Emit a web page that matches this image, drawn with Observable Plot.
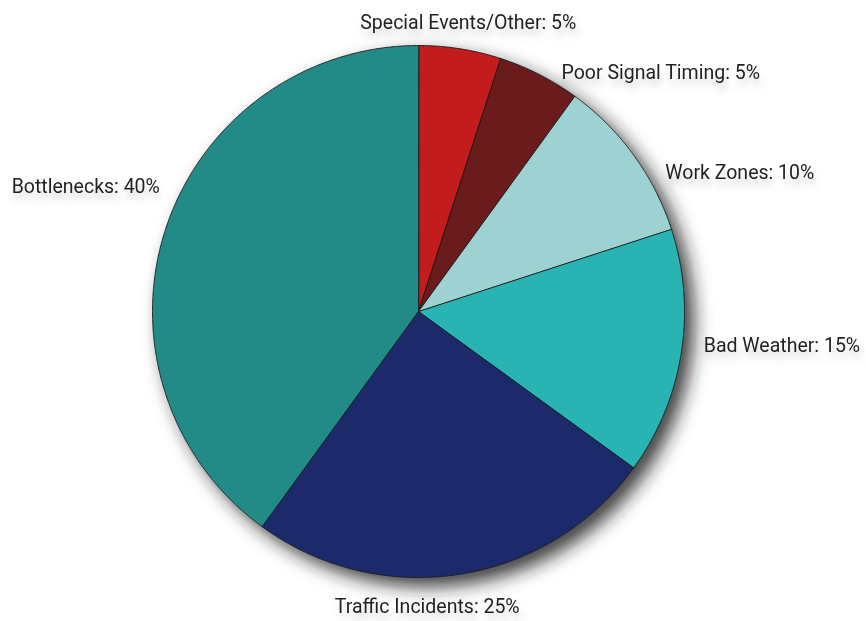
<!DOCTYPE html>
<html>
<head>
<meta charset="utf-8">
<script src="https://cdn.jsdelivr.net/npm/d3@7"></script>
<script src="https://cdn.jsdelivr.net/npm/@observablehq/plot@0.6"></script>
<style>
  html, body { margin: 0; padding: 0; background: #fff; }
  #chart { width: 866px; height: 621px; }
</style>
</head>
<body>
<div id="chart"></div>
<script>
// ---- Data (clockwise from 12 o'clock) ----
const categories = ["Special Events/Other", "Poor Signal Timing", "Work Zones", "Bad Weather", "Traffic Incidents", "Bottlenecks"];
const shares = [5, 5, 10, 15, 25, 40];
const colors = ["#c21a1c", "#6a1c1f", "#9ed1d1", "#2bb3b3", "#1c2a6c", "#218b88"];

// ---- Label layout (polar angle in degrees clockwise from top, radius as fraction of pie radius, anchor) ----
const labelAngles = [9.8, 30.9, 60.6, 96.8, 178.3, 295.8];
const labelRadii = [1.10, 1.047, 1.065, 1.08, 1.11, 1.08];
const labelAnchors = ["middle", "start", "start", "start", "middle", "end"];

// ---- Build slice polygons from the values ----
const total = d3.sum(shares);
const slices = [];
let acc = 0;
categories.forEach((name, i) => {
  const a0 = acc / total * 2 * Math.PI;
  acc += shares[i];
  const a1 = acc / total * 2 * Math.PI;
  slices.push({name, x: 0, y: 0});
  const n = Math.max(2, Math.ceil((a1 - a0) / (Math.PI / 720)));
  for (let k = 0; k <= n; k++) {
    const a = a0 + (a1 - a0) * k / n;
    slices.push({name, x: Math.sin(a), y: Math.cos(a)});
  }
});

const labels = categories.map((name, i) => {
  const a = labelAngles[i] * Math.PI / 180;
  return {
    text: `${name}: ${shares[i]}%`,
    x: labelRadii[i] * Math.sin(a),
    y: labelRadii[i] * Math.cos(a),
    anchor: labelAnchors[i]
  };
});

const textOpts = anchor => ({
  x: "x", y: "y", text: "text", textAnchor: anchor,
  fontSize: 19.5, fill: "#222", fontFamily: "Roboto, 'Open Sans', sans-serif"
});

const chart = Plot.plot({
  width: 866,
  height: 621,
  marginLeft: 152,
  marginRight: 182,
  marginTop: 45,
  marginBottom: 44,
  x: {domain: [-1, 1], axis: null},
  y: {domain: [-1, 1], axis: null},
  color: {domain: categories, range: colors},
  style: {background: "#fff", fontFamily: "Roboto, 'Open Sans', sans-serif"},
  marks: [
    Plot.line(slices, {x: "x", y: "y", z: "name", fill: "name", stroke: "#1a1a1a", strokeWidth: 0.9, curve: "linear-closed"}),
    ...["start", "middle", "end"].map(anc =>
      Plot.text(labels.filter(d => d.anchor === anc), textOpts(anc)))
  ]
});

// soft drop shadows
const svg = d3.select(chart);
const defs = svg.insert("defs", ":first-child");
const f1 = defs.append("filter").attr("id", "pieShadow").attr("x", "-20%").attr("y", "-20%").attr("width", "150%").attr("height", "150%");
f1.append("feDropShadow").attr("dx", 9).attr("dy", 9).attr("stdDeviation", 9).attr("flood-color", "#1e1e1e").attr("flood-opacity", 0.85);
const f2 = defs.append("filter").attr("id", "textShadow").attr("x", "-10%").attr("y", "-50%").attr("width", "120%").attr("height", "250%");
f2.append("feDropShadow").attr("dx", 2).attr("dy", 7).attr("stdDeviation", 3.5).attr("flood-color", "#777").attr("flood-opacity", 0.3);
svg.selectAll("g[aria-label='line']").attr("filter", "url(#pieShadow)");
svg.selectAll("g[aria-label='text']").attr("filter", "url(#textShadow)");

document.getElementById("chart").appendChild(chart);
</script>
</body>
</html>
